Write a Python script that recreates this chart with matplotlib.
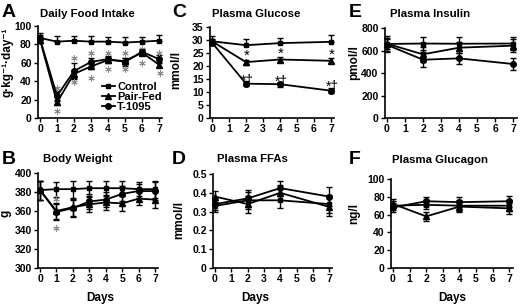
import matplotlib
matplotlib.use("Agg")
import matplotlib.pyplot as plt

plt.rcParams['font.family'] = ['Liberation Sans', 'DejaVu Sans']
plt.rcParams['font.weight'] = 'bold'

# --- data ---
days_all = [0, 1, 2, 3, 4, 5, 6, 7]
days_sub = [0, 2, 4, 7]
group_names = ['Control', 'Pair-Fed', 'T-1095']

food_ctrl = [87, 83, 84, 83, 83, 82, 83, 84]
food_ctrl_err = [5, 6, 5, 6, 5, 6, 5, 6]
food_pair = [85, 17, 48, 56, 63, 62, 71, 58]
food_pair_err = [3, 3, 4, 3, 3, 3, 3, 3]
food_t = [86, 24, 51, 61, 64, 61, 72, 64]
food_t_err = [4, 5, 9, 4, 3, 4, 3, 4]
food_star_hi = [33, 65, 71, 71, 71, 75, 71]
food_star_lo = [8, 39.5, 43, 53, 53, 60, 49]
food_star_days = [1, 2, 3, 4, 5, 6, 7]

bw_ctrl = [382, 383, 383, 384, 384, 384, 383, 383]
bw_pair = [382, 360, 364, 367, 369, 368, 373, 372]
bw_t = [382, 359, 363, 370, 372, 378, 381, 381]
bw_err = [10, 8, 9, 8, 8, 8, 7, 9]
bw_star_days = [1, 1]
bw_star_vals = [373, 342]

glu_ctrl = [29.5, 28, 28.8, 29.3]
glu_ctrl_err = [2, 2.5, 2, 2.5]
glu_pair = [29.5, 21.5, 22.5, 22]
glu_t = [29, 13.2, 13, 10.5]
glu_small_err = [1, 1, 1, 1]
glu_star_days = [2, 4, 7]
glu_star_pair = [23.8, 24.8, 24.3]
glu_star_t = [14.2, 14.0, 11.8]

ffa_ctrl = [0.33, 0.36, 0.36, 0.34]
ffa_pair = [0.38, 0.34, 0.40, 0.325]
ffa_t = [0.34, 0.37, 0.425, 0.38]
ffa_err = [0.03, 0.045, 0.04, 0.05]

ins_ctrl = [658, 662, 660, 662]
ins_ctrl_err = [75, 60, 60, 60]
ins_pair = [660, 566, 625, 643]
ins_t = [650, 518, 530, 480]
ins_err = [50, 65, 50, 55]

gcg_ctrl = [70, 71, 70, 70]
gcg_pair = [72, 58, 69, 67]
gcg_t = [68, 75, 74, 75]
gcg_err = [5, 5, 6, 6]

W, H = 520, 308
fig = plt.figure(figsize=(W / 100, H / 100), dpi=100)


def make_axes(x0_px, px_per_day, top_px, bottom_px, ymax, yticks):
    xmin, xmax = -0.12, 7.2
    left = x0_px + xmin * px_per_day
    right = x0_px + xmax * px_per_day
    ax = fig.add_axes([left / W, 1 - bottom_px / H, (right - left) / W, (bottom_px - top_px) / H])
    ax.set_xlim(xmin, xmax)
    ax.set_ylim(yticks[0], ymax)
    ax.set_yticks(yticks)
    ax.set_xticks(days_all)
    for s in ['top', 'right']:
        ax.spines[s].set_visible(False)
    for s in ['left', 'bottom']:
        ax.spines[s].set_linewidth(1.2)
    ax.tick_params(direction='out', length=3, width=1, labelsize=7.5, pad=1.5)
    for lab in ax.get_xticklabels() + ax.get_yticklabels():
        lab.set_fontweight('bold')
    return ax


def series(ax, x, y, err, marker, lolims=False, ms=4):
    if lolims:
        yerr = [[0] * len(err), err]
    else:
        yerr = err
    cont = ax.errorbar(x, y, yerr=yerr, color='black', marker=marker, ms=ms, lw=1.3,
                       elinewidth=1, capsize=2.2, capthick=1, clip_on=False)
    return cont[0]


gray = '#8a8a8a'
star = (6, 2, 0)

# A
ax = make_axes(40, 17, 26, 118, 100, [0, 20, 40, 60, 80, 100])
h1 = series(ax, days_all, food_ctrl, food_ctrl_err, 's', lolims=True, ms=3.5)
h2 = series(ax, days_all, food_pair, food_pair_err, '^')
h3 = series(ax, days_all, food_t, food_t_err, 'o')
ax.plot(food_star_days, food_star_hi, ls='none', marker=star, ms=4.5, mew=0.7, color=gray, clip_on=False)
ax.plot([d + 0.08 * (d == 7) for d in food_star_days], food_star_lo, ls='none', marker=star, ms=4.5,
        mew=0.7, color=gray, clip_on=False)
ax.legend([h1, h2, h3], group_names, loc='upper left', bbox_to_anchor=(96 / W, 1 - 76 / H),
          bbox_transform=fig.transFigure, handlelength=1.2, handletextpad=0.2, labelspacing=0.0,
          borderpad=0, frameon=False, prop={'size': 8, 'weight': 'bold'})

# B
ax = make_axes(40, 16.43, 173, 268, 400, [300, 320, 340, 360, 380, 400])
series(ax, days_all, bw_ctrl, bw_err, 's', ms=3.5)
series(ax, days_all, bw_pair, bw_err, '^')
series(ax, days_all, bw_t, bw_err, 'o')
ax.plot(bw_star_days, bw_star_vals, ls='none', marker=star, ms=4.5, mew=0.7, color=gray, clip_on=False)

# C
ax = make_axes(212, 17, 27, 118, 35, [0, 5, 10, 15, 20, 25, 30, 35])
series(ax, days_sub, glu_ctrl, glu_ctrl_err, 's', lolims=True, ms=3.5)
series(ax, days_sub, glu_pair, glu_small_err, '^')
series(ax, days_sub, glu_t, glu_small_err, 'o')
for d, v in zip(glu_star_days, glu_star_pair):
    ax.text(d + 0.05, v, '*', ha='center', va='center', fontsize=11, fontweight='normal')
for d, v in zip(glu_star_days, glu_star_t):
    ax.text(d + 0.05, v, '*†', ha='center', va='center', fontsize=10, fontweight='normal')

# D
ax = make_axes(215, 16.3, 174, 268, 0.5, [0, 0.1, 0.2, 0.3, 0.4, 0.5])
ax.set_yticklabels(['0', '0.1', '0.2', '0.3', '0.4', '0.5'])
series(ax, days_sub, ffa_ctrl, ffa_err, 's', ms=3.5)
series(ax, days_sub, ffa_pair, ffa_err, '^')
series(ax, days_sub, ffa_t, ffa_err, 'o')

# E
ax = make_axes(387, 18, 28, 118, 800, [0, 200, 400, 600, 800])
series(ax, days_sub, ins_ctrl, ins_ctrl_err, 's', ms=3.5)
series(ax, days_sub, ins_pair, ins_err, '^')
series(ax, days_sub, ins_t, ins_err, 'o')

# F
ax = make_axes(393, 16.6, 179, 268, 100, [0, 20, 40, 60, 80, 100])
series(ax, days_sub, gcg_ctrl, gcg_err, 's', ms=3.5)
series(ax, days_sub, gcg_pair, gcg_err, '^')
series(ax, days_sub, gcg_t, gcg_err, 'o')

# panel letters, titles, axis labels
letters = [('A', 2, 4), ('B', 2, 151), ('C', 172, 4), ('D', 172, 151), ('E', 349, 4), ('F', 349, 151)]
for t, x, y in letters:
    fig.text(x / W, 1 - y / H, t, fontsize=14, fontweight='bold', va='top', ha='left')

titles = [('Daily Food Intake', 40, 14), ('Body Weight', 43, 159), ('Plasma Glucose', 212, 14),
          ('Plasma FFAs', 217, 159), ('Plasma Insulin', 390, 14), ('Plasma Glucagon', 392, 160)]
for t, x, y in titles:
    fig.text(x / W, 1 - y / H, t, fontsize=8.2, fontweight='bold', va='center', ha='left')

ylabels = [('g·kg⁻¹·day⁻¹', 8, 62), ('g', 6, 213), ('mmol/l', 176, 70), ('mmol/l', 179, 220),
           ('pmol/l', 354, 63), ('ng/l', 354, 213)]
for t, x, y in ylabels:
    fig.text(x / W, 1 - y / H, t, fontsize=8.5, fontweight='bold', va='center', ha='center', rotation=90)

for x in [100, 255, 452]:
    fig.text(x / W, 1 - 298 / H, 'Days', fontsize=8.5, fontweight='bold', va='center', ha='center')

fig.savefig('out.png', dpi=100)
